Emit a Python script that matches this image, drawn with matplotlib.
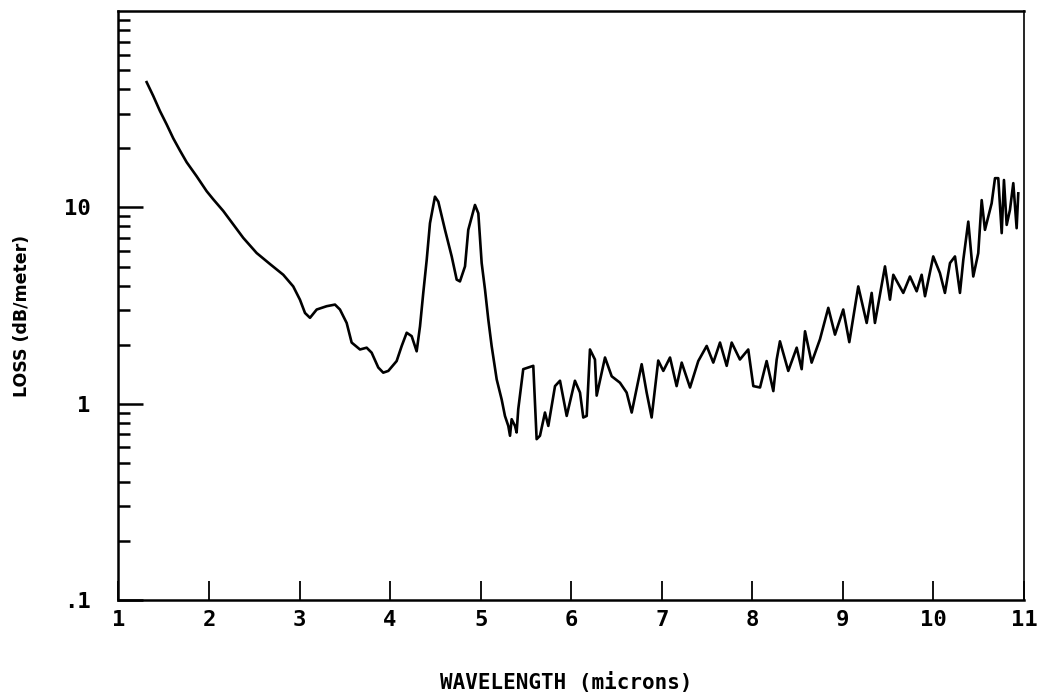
import matplotlib
matplotlib.use("Agg")
import matplotlib.pyplot as plt
from matplotlib.ticker import FixedLocator, LogLocator, NullFormatter

# wavelength (microns) and loss (dB/meter)
wavelength = [1.311, 1.384, 1.458, 1.532, 1.605, 1.679, 1.753, 1.864, 1.974, 2.047,
              2.157, 2.268, 2.378, 2.526, 2.673, 2.820, 2.930, 3.004, 3.060, 3.115,
              3.189, 3.299, 3.391, 3.446, 3.520, 3.575, 3.667, 3.741, 3.796, 3.869,
              3.924, 3.980, 4.072, 4.128, 4.183, 4.238, 4.293, 4.330, 4.366, 4.404,
              4.440, 4.495, 4.532, 4.606, 4.680, 4.735, 4.771, 4.827, 4.863, 4.937,
              4.974, 5.011, 5.048, 5.084, 5.121, 5.177, 5.232, 5.268, 5.305, 5.324,
              5.342, 5.379, 5.397, 5.415, 5.470, 5.526, 5.581, 5.618, 5.655,
              5.710, 5.747, 5.821, 5.876, 5.950, 6.041, 6.097, 6.133, 6.171, 6.207,
              6.262, 6.281, 6.373, 6.447, 6.538, 6.612, 6.668, 6.778, 6.833, 6.888,
              6.961, 7.017, 7.091, 7.164, 7.220, 7.312, 7.403, 7.496, 7.569, 7.643,
              7.717, 7.772, 7.863, 7.955, 8.011, 8.085, 8.158, 8.232, 8.269, 8.305,
              8.397, 8.490, 8.545, 8.582, 8.655, 8.747, 8.839, 8.913, 9.004, 9.071,
              9.170, 9.263, 9.318, 9.354, 9.465, 9.520, 9.557, 9.667, 9.741, 9.815,
              9.870, 9.907, 9.998, 10.072, 10.127, 10.183, 10.238, 10.293, 10.330, 10.385,
              10.440, 10.495, 10.533, 10.569, 10.643, 10.680, 10.716, 10.754, 10.779, 10.809,
              10.845, 10.882, 10.919, 10.937]
loss = [43.5, 37.0, 31.0, 26.5, 22.5, 19.5, 17.0, 14.4, 12.1, 11.0,
        9.6, 8.2, 7.0, 5.86, 5.15, 4.54, 3.96, 3.39, 2.90, 2.74,
        3.02, 3.14, 3.20, 3.02, 2.58, 2.05, 1.89, 1.93, 1.82, 1.53,
        1.44, 1.47, 1.65, 1.97, 2.30, 2.21, 1.85, 2.48, 3.67, 5.41,
        8.31, 11.35, 10.7, 7.69, 5.63, 4.29, 4.20, 5.01, 7.69, 10.3,
        9.34, 5.21, 3.81, 2.69, 1.97, 1.33, 1.05, 0.867, 0.771, 0.687,
        0.834, 0.771, 0.714, 0.938, 1.50, 1.53, 1.56, 0.660, 0.687,
        0.902, 0.771, 1.23, 1.31, 0.867, 1.31, 1.14, 0.851, 0.867, 1.89,
        1.68, 1.10, 1.72, 1.38, 1.28, 1.14, 0.902, 1.59, 1.14, 0.851,
        1.66, 1.47, 1.72, 1.23, 1.62, 1.21, 1.65, 1.97, 1.62, 2.05,
        1.56, 2.05, 1.68, 1.89, 1.23, 1.21, 1.65, 1.16, 1.68, 2.08,
        1.47, 1.93, 1.50, 2.34, 1.62, 2.13, 3.08, 2.25, 3.02, 2.06,
        3.96, 2.58, 3.67, 2.58, 5.01, 3.39, 4.54, 3.67, 4.45, 3.74,
        4.54, 3.53, 5.63, 4.63, 3.67, 5.21, 5.63, 3.67, 5.41, 8.47,
        4.45, 5.85, 10.9, 7.69, 10.5, 14.1, 14.1, 7.40, 13.8, 8.15,
        9.71, 13.3, 7.84, 11.8]

x_ticks = [1, 2, 3, 4, 5, 6, 7, 8, 9, 10, 11]
x_labels = ["1", "2", "3", "4", "5", "6", "7", "8", "9", "10", "11"]
y_ticks = [0.1, 1, 10]
y_labels = [".1", "1", "10"]

fig = plt.figure(figsize=(10.42, 6.99), dpi=100)
ax = fig.add_axes([0.1137, 0.1416, 0.869, 0.8424])

ax.plot(wavelength, loss, color="black", lw=1.9, solid_joinstyle="round")

ax.set_yscale("log")
ax.set_xlim(1, 11)
ax.set_ylim(0.1, 100)

tick_font = dict(family="DejaVu Sans Mono", weight="bold", size=16)

ax.xaxis.set_major_locator(FixedLocator(x_ticks))
ax.set_xticklabels(x_labels, **tick_font)
ax.yaxis.set_major_locator(FixedLocator(y_ticks))
ax.set_yticklabels(y_labels, **tick_font)
ax.yaxis.set_minor_locator(LogLocator(base=10, subs=[2, 3, 4, 5, 6, 7, 8, 9]))
ax.yaxis.set_minor_formatter(NullFormatter())

ax.tick_params(axis="x", which="major", direction="in", length=14, width=1.3, pad=7,
               top=False)
ax.tick_params(axis="y", which="major", direction="in", length=18, width=1.8, pad=20,
               right=False)
ax.tick_params(axis="y", which="minor", direction="in", length=8.5, width=1.8,
               right=False)

for side in ["left", "bottom", "top"]:
    ax.spines[side].set_linewidth(1.8)
ax.spines["right"].set_linewidth(1.2)

fig.text(0.543, 0.023, "WAVELENGTH (microns)", ha="center", va="center",
         family="DejaVu Sans Mono", weight="bold", fontsize=15)
fig.text(0.021, 0.548, "LOSS (dB/meter)", ha="center", va="center", rotation=90,
         family="DejaVu Sans", weight="bold", fontsize=12.5)

fig.savefig("out.png", dpi=100)
